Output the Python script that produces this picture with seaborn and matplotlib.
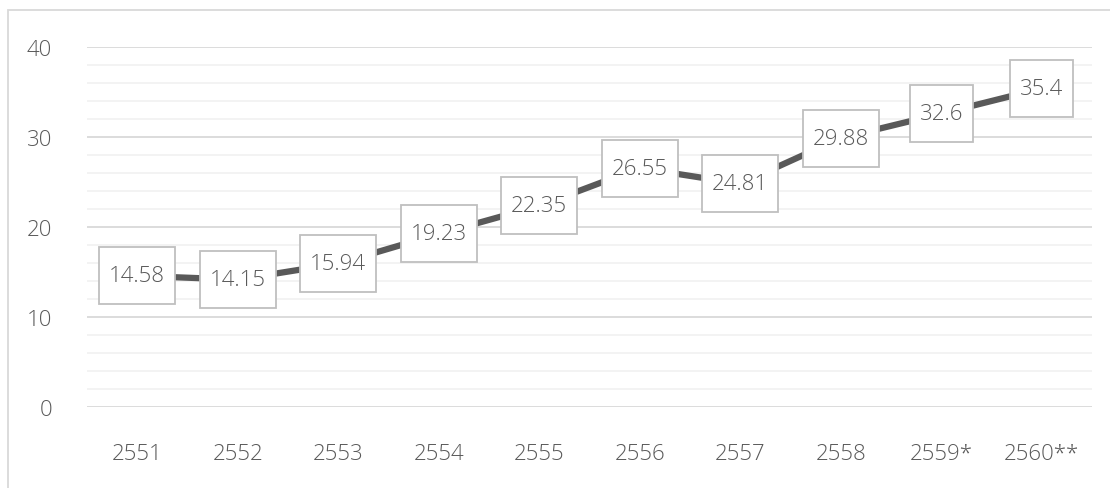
import matplotlib
matplotlib.use("Agg")
import matplotlib.pyplot as plt
from matplotlib.patches import Rectangle
from matplotlib.ticker import MultipleLocator
import seaborn as sns
import pandas as pd

years = ["2551", "2552", "2553", "2554", "2555", "2556", "2557", "2558", "2559*", "2560**"]
values = [14.58, 14.15, 15.94, 19.23, 22.35, 26.55, 24.81, 29.88, 32.6, 35.4]
labels = ["14.58", "14.15", "15.94", "19.23", "22.35", "26.55", "24.81", "29.88", "32.6", "35.4"]

sns.set_theme(style="white")
plt.rcParams["font.family"] = ["Open Sans", "DejaVu Sans"]
plt.rcParams["font.weight"] = "light"

TEXT = "#595959"
FS = 16

W, H = 1110, 489
fig = plt.figure(figsize=(W / 100, H / 100), dpi=100)
ax = fig.add_axes([87 / W, 1 - 408 / H, (1092 - 87) / W, (408 - 48) / H])

df = pd.DataFrame({"year": years, "value": values})
df["pos"] = range(len(df))
sns.lineplot(data=df, x="pos", y="value", ax=ax, color=TEXT, linewidth=4.5,
             solid_capstyle="round", zorder=3)

ax.set_xlim(-0.5, len(years) - 0.5)
ax.set_ylim(0, 40)
ax.yaxis.set_major_locator(MultipleLocator(10))
ax.yaxis.set_minor_locator(MultipleLocator(2))
ax.grid(which="major", axis="y", color="#d9d9d9", linewidth=1.3, zorder=0)
ax.grid(which="minor", axis="y", color="#f2f2f2", linewidth=1.3, zorder=0)
ax.grid(which="major", axis="x", visible=False)
ax.set_axisbelow(True)
for s in ax.spines.values():
    s.set_visible(False)

ax.set_xticks(df["pos"])
ax.set_xticklabels(years)
ax.set_xlabel("")
ax.set_ylabel("")
ax.tick_params(axis="x", length=0, pad=26, labelsize=FS, labelcolor=TEXT)
ax.tick_params(axis="y", length=0, pad=25, labelsize=FS, labelcolor=TEXT)
ax.tick_params(axis="y", which="minor", length=0)

# value labels, each in a white box sized from the text extent
texts = []
for x, v, t in zip(df["pos"], values, labels):
    texts.append(ax.text(x, v, t, ha="center", va="center", fontsize=FS,
                         color=TEXT, zorder=6))

fig.canvas.draw()
renderer = fig.canvas.get_renderer()
inv = ax.transData.inverted()
for x, v, txt in zip(df["pos"], values, texts):
    bb = txt.get_window_extent(renderer)
    cx, cy = ax.transData.transform((x, v))
    w = bb.width + 20
    h = 57
    (x0, y0) = inv.transform((cx - w / 2, cy - h / 2))
    (x1, y1) = inv.transform((cx + w / 2, cy + h / 2))
    ax.add_patch(Rectangle((x0, y0), x1 - x0, y1 - y0, facecolor="white",
                           edgecolor="#bfbfbf", linewidth=1.3, zorder=5, clip_on=False))

# outer chart frame
fig.patches.append(Rectangle((8 / W, -0.1), 1.2, 1 - 11 / H + 0.1, transform=fig.transFigure,
                             fill=False, edgecolor="#d9d9d9", linewidth=1.3))

fig.savefig("out.png", dpi=100, facecolor="white")
